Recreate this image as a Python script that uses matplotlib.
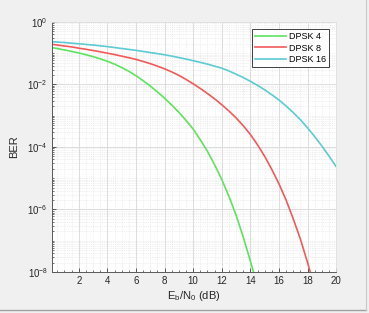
import numpy as np
import matplotlib
matplotlib.use('Agg')
matplotlib.rcParams['font.family'] = ['Liberation Sans', 'DejaVu Sans']
matplotlib.rcParams['mathtext.fontset'] = 'custom'
matplotlib.rcParams['mathtext.rm'] = 'Liberation Sans'
import matplotlib.pyplot as plt
from matplotlib.ticker import FixedLocator, NullFormatter, LogFormatterMathtext
from matplotlib.lines import Line2D

# ---- 数据 (从图中读取, BER 的 log10 值) ----
ebn0_4 = [0, 0.5, 1, 1.5, 2, 2.5, 3, 3.5, 4, 4.5, 5, 5.5, 6, 6.5, 7, 7.5,
          8, 8.5, 9, 9.5, 10, 10.5, 11, 11.5, 12, 12.5, 13, 13.5, 14, 14.5]
logber_4 = [-0.81, -0.853, -0.897, -0.944, -0.994, -1.05, -1.11, -1.18,
            -1.26, -1.35, -1.46, -1.58, -1.72, -1.88, -2.05, -2.24,
            -2.44, -2.66, -2.89, -3.15, -3.43, -3.77, -4.14, -4.57,
            -5.04, -5.58, -6.18, -6.88, -7.65, -8.45]

ebn0_8 = [0, 0.5, 1, 1.5, 2, 2.5, 3, 3.5, 4, 4.5, 5, 5.5, 6, 6.5, 7, 7.5,
          8, 8.5, 9, 9.5, 10, 10.5, 11, 11.5, 12, 12.5, 13, 13.5, 14, 14.5,
          15, 15.5, 16, 16.5, 17, 17.5, 18, 18.5]
logber_8 = [-0.71, -0.74, -0.77, -0.80, -0.84, -0.875, -0.915, -0.955,
            -1.0, -1.045, -1.095, -1.145, -1.2, -1.265, -1.335, -1.415,
            -1.5, -1.6, -1.71, -1.84, -1.98, -2.13, -2.29, -2.46,
            -2.65, -2.85, -3.07, -3.32, -3.6, -3.93, -4.3, -4.72,
            -5.18, -5.7, -6.3, -6.95, -7.7, -8.5]

ebn0_16 = [0, 1, 2, 3, 4, 5, 6, 7, 8, 9, 10, 11, 12, 12.5, 13, 13.5, 14,
           14.5, 15, 15.5, 16, 16.5, 17, 17.5, 18, 18.5, 19, 19.5, 20]
logber_16 = [-0.63, -0.66, -0.70, -0.74, -0.79, -0.85, -0.91, -0.98,
             -1.05, -1.14, -1.24, -1.35, -1.48, -1.57, -1.67, -1.78,
             -1.9, -2.03, -2.17, -2.33, -2.5, -2.69, -2.9, -3.13,
             -3.39, -3.67, -3.97, -4.29, -4.63]

labels = ['DPSK 4', 'DPSK 8', 'DPSK 16']
colors = ['#5fe35f', '#f25a5a', '#5ccbd3']

fig = plt.figure(figsize=(3.69, 3.13), dpi=100, facecolor='#f0f0f0')
ax = fig.add_axes([0.141, 0.131, 0.770, 0.799])
ax.set_facecolor('white')

for x, ly, lab, c in zip([ebn0_4, ebn0_8, ebn0_16],
                         [logber_4, logber_8, logber_16], labels, colors):
    ax.semilogy(x, 10.0 ** np.array(ly), color=c, linewidth=1.2, label=lab)

ax.set_xlim(0.13, 20)
ax.set_ylim(1e-8, 1)

# 刻度
ax.xaxis.set_major_locator(FixedLocator(np.arange(2, 21, 2)))
ax.xaxis.set_minor_locator(FixedLocator(np.arange(0.5, 20, 0.5)))
ax.yaxis.set_major_locator(FixedLocator([1e-8, 1e-6, 1e-4, 1e-2, 1e0]))
minor_y = [m * 10.0 ** k for k in range(-8, 0) for m in range(1, 10)
           if not (m == 1 and k % 2 == 0)]
ax.yaxis.set_minor_locator(FixedLocator(minor_y))
ax.yaxis.set_major_formatter(LogFormatterMathtext())
ax.yaxis.set_minor_formatter(NullFormatter())

ax.tick_params(which='both', direction='in', colors='#404040',
               labelsize=7, labelcolor='#262626')
ax.tick_params(which='major', length=3, width=0.6, pad=3)
ax.tick_params(which='minor', length=1.5, width=0.5)

ax.grid(True, which='major', color='#dcdcdc', linewidth=0.7, linestyle='-')
ax.grid(True, which='minor', color='#e2e2e2', linewidth=0.5, linestyle=':')
ax.set_axisbelow(True)

for s in ['left', 'bottom']:
    ax.spines[s].set_color('#5a5a5a')
    ax.spines[s].set_linewidth(0.7)
for s in ['top', 'right']:
    ax.spines[s].set_color('#e0e0e0')
    ax.spines[s].set_linewidth(0.6)

ax.set_xlabel(r'E$_\mathregular{b}$/N$_\mathregular{0}$ (dB)', fontsize=8,
              color='#262626', labelpad=2)
ax.set_ylabel('BER', fontsize=8, color='#262626', labelpad=6)

leg = ax.legend(loc='upper right', fontsize=6.5, fancybox=False,
                framealpha=1, edgecolor='#404040', handlelength=3.4,
                handletextpad=0.3, borderpad=0.35, labelspacing=0.25,
                borderaxespad=0.8)
leg.get_frame().set_linewidth(0.7)

# 窗口边框
fig.add_artist(Line2D([0, 0.992], [0.01, 0.01], color='#a0a0a0', linewidth=1.0))
fig.add_artist(Line2D([0.992, 0.992], [0.01, 1.0], color='#c8c8c8', linewidth=0.8))

fig.savefig('out.png', dpi=100, facecolor=fig.get_facecolor())
